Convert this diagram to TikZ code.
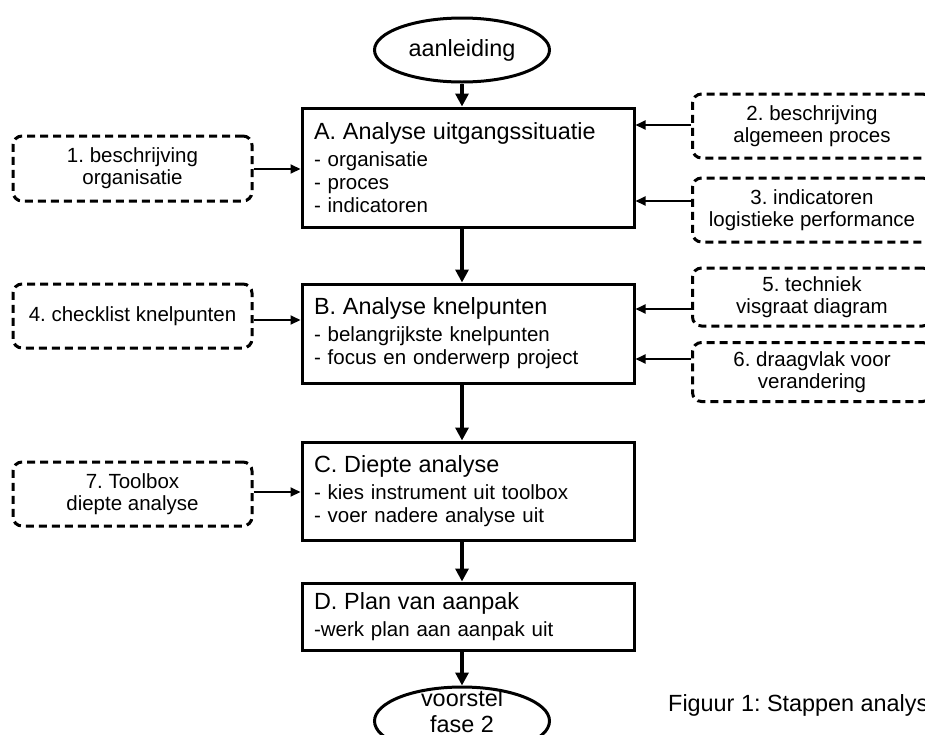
\documentclass[tikz,border=0pt]{standalone}
\usepackage{fontspec}
\setmainfont{Liberation Sans}
\frenchspacing
\usetikzlibrary{arrows.meta,shapes.geometric}
\tikzset{
  mainbox/.style={draw, line width=3pt, text width=308pt, inner xsep=12pt, inner ysep=0pt,
    align=left, font=\fontsize{20.5}{23}\selectfont},
  dbox/.style={draw, line width=3pt, dash pattern=on 8pt off 5pt, rounded corners=9pt,
    minimum width=239pt, align=center, inner sep=0pt, font=\fontsize{20.5}{22}\selectfont},
  oval/.style={draw, ellipse, line width=3pt, minimum width=175pt, minimum height=64pt,
    inner sep=0pt, font=\fontsize{23.4}{26}\selectfont, align=center},
  flow/.style={line width=4pt, -{Triangle[width=13pt,length=13pt]}},
  side/.style={line width=2pt, -{Triangle[width=9pt,length=10pt]}},
}
\newcommand{\ttl}[1]{{\fontsize{23.4}{23}\selectfont #1}\\[4pt]}
\begin{document}
\begin{tikzpicture}[x=1pt,y=-1pt]
\useasboundingbox (0,0) rectangle (925,734);
\clip (0,0) rectangle (925,734);
% start / end ellipses
\node[oval] (start) at (462,50) {aanleiding};
\node[oval, minimum height=68pt] (stop) at (462,721) {};
\node[font=\fontsize{23.4}{26}\selectfont, align=center, inner sep=0pt] (stoptxt) at (462,711) {voorstel\\fase 2};
% main boxes
\node[mainbox, minimum height=119pt] (A) at (468,167.5) {\ttl{A. Analyse uitgangssituatie}- organisatie\\- proces\\- indicatoren};
\node[mainbox, minimum height=99pt] (B) at (468,333.5) {\ttl{B. Analyse knelpunten}- belangrijkste knelpunten\\- focus en onderwerp project};
\node[mainbox, minimum height=98pt] (C) at (468,491) {\ttl{C. Diepte analyse}- kies instrument uit toolbox\\- voer nadere analyse uit};
\node[mainbox, minimum height=67pt] (D) at (468,616.5) {\ttl{D. Plan van aanpak}-werk plan aan aanpak uit};
% dashed boxes left
\node[dbox, minimum height=65pt] (b1) at (132.5,168.5) {1. beschrijving\\organisatie};
\node[dbox, minimum height=64pt] (b4) at (132.5,316) {4. checklist knelpunten};
\node[dbox, minimum height=64pt] (b7) at (132.5,494) {7. Toolbox\\diepte analyse};
% dashed boxes right
\node[dbox, minimum height=64pt] (b2) at (812,126) {2. beschrijving\\algemeen proces};
\node[dbox, minimum height=64pt] (b3) at (812,210) {3. indicatoren\\logistieke performance};
\node[dbox, minimum height=58pt] (b5) at (812,297) {5. techniek\\visgraat diagram};
\node[dbox, minimum height=59pt] (b6) at (812,372) {6. draagvlak voor\\verandering};
% flow arrows
\draw[flow] (start.south) -- (start.south |- A.north);
\draw[flow] (A.south -| start) -- (B.north -| start);
\draw[flow] (B.south -| start) -- (C.north -| start);
\draw[flow] (C.south -| start) -- (D.north -| start);
\draw[flow] (D.south -| start) -- (stop.north);
% side arrows
\draw[side] ([yshift=-0.5pt]b1.east) -- ([yshift=-0.5pt]b1.east -| A.west);
\draw[side] ([yshift=-4pt]b4.east) -- ([yshift=-4pt]b4.east -| B.west);
\draw[side] ([yshift=2pt]b7.east) -- ([yshift=2pt]b7.east -| C.west);
\draw[side] ([yshift=1pt]b2.west) -- ([yshift=1pt]b2.west -| A.east);
\draw[side] ([yshift=9pt]b3.west) -- ([yshift=9pt]b3.west -| A.east);
\draw[side] ([yshift=-12pt]b5.west) -- ([yshift=-12pt]b5.west -| B.east);
\draw[side] ([yshift=13pt]b6.west) -- ([yshift=13pt]b6.west -| B.east);
% caption
\node[anchor=base west, inner sep=0pt, font=\fontsize{23.4}{26}\selectfont] (cap) at (668,711) {Figuur 1: Stappen analyse};
\end{tikzpicture}
\end{document}
